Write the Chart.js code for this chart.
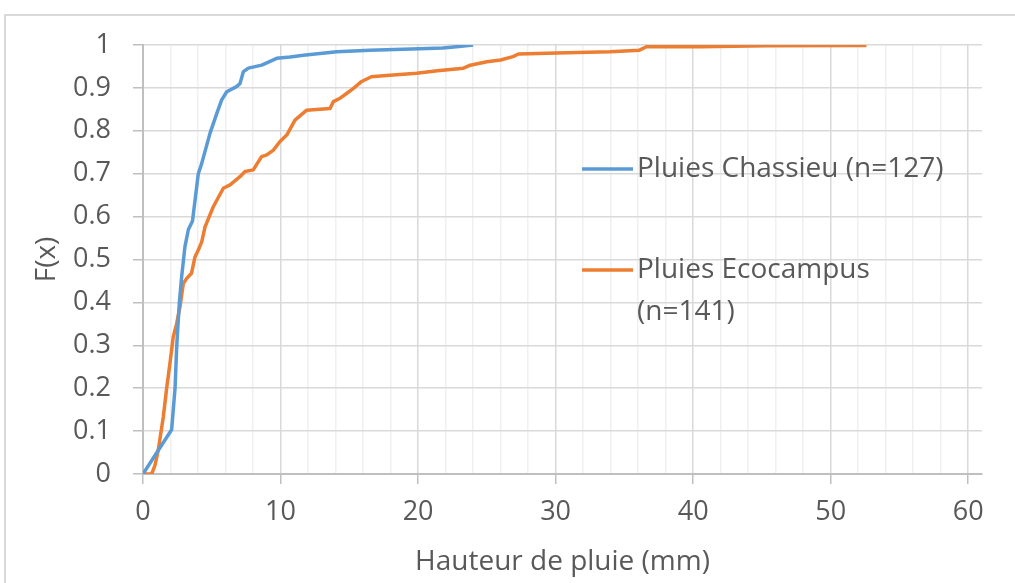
<!DOCTYPE html>
<html>
<head>
<meta charset="utf-8">
<script src="https://cdn.jsdelivr.net/npm/chart.js@4/dist/chart.umd.min.js"></script>
<style>
  html, body { margin: 0; padding: 0; background: #fff; overflow: hidden; }
  #wrap { position: relative; width: 1015px; height: 583px; }
  #frame { position: absolute; left: 4px; top: 14px; width: 1100px; height: 700px; border: 2px solid #d9d9d9; }
  canvas { position: absolute; left: 0; top: 0; }
</style>
</head>
<body>
<div id="wrap">
  <div id="frame"></div>
  <canvas id="cdfChart" width="1015" height="583"></canvas>
</div>
<script>
// Pluies Chassieu (n=127)
const chassieuX = [0, 2.08, 2.33, 2.45, 2.64, 2.81, 3.05, 3.3, 3.6, 4.02, 4.27, 4.87, 5.36, 5.72, 6.09, 6.8, 7.05, 7.3, 7.66, 8.63, 9.24, 9.72, 10.7, 11.66, 14.09, 16.5, 20.1, 21.8, 22.8, 24.0];
const chassieuY = [0, 0.103, 0.2, 0.297, 0.398, 0.46, 0.53, 0.57, 0.59, 0.70, 0.724, 0.794, 0.84, 0.872, 0.891, 0.903, 0.91, 0.938, 0.946, 0.953, 0.962, 0.969, 0.972, 0.976, 0.984, 0.988, 0.991, 0.993, 0.996, 1.0];

// Pluies Ecocampus (n=141)
const ecocampusX = [0, 0.63, 0.87, 1.11, 1.48, 1.72, 1.96, 2.2, 2.45, 2.69, 2.93, 3.18, 3.53, 3.78, 4.02, 4.27, 4.51, 5.11, 5.84, 6.33, 7.05, 7.42, 8.02, 8.39, 8.63, 9.0, 9.48, 9.96, 10.45, 11.05, 11.9, 13.6, 13.84, 14.33, 14.8, 15.3, 15.9, 16.6, 17.7, 19.9, 21.4, 23.3, 23.8, 25.0, 26.0, 26.9, 27.3, 30.8, 33.96, 36.1, 36.6, 40.5, 45.4, 52.6];
const ecocampusY = [0, 0, 0.02, 0.056, 0.134, 0.2, 0.258, 0.32, 0.351, 0.39, 0.444, 0.456, 0.468, 0.506, 0.522, 0.541, 0.576, 0.623, 0.666, 0.674, 0.693, 0.705, 0.709, 0.728, 0.74, 0.744, 0.755, 0.775, 0.79, 0.825, 0.848, 0.852, 0.868, 0.876, 0.887, 0.899, 0.915, 0.926, 0.929, 0.934, 0.94, 0.946, 0.953, 0.961, 0.965, 0.973, 0.979, 0.982, 0.984, 0.988, 0.996, 0.996, 0.998, 0.999];

const seriesNames = ['Pluies Chassieu (n=127)', ['Pluies Ecocampus', '(n=141)']];
const seriesColors = ['#5b9bd5', '#ed7d31'];

const textColor = '#595959';
const fontFamily = '"Open Sans", sans-serif';

const toPoints = (xs, ys) => xs.map((x, i) => ({ x: x, y: ys[i] }));

// legend drawn inside the plot, like the Excel original
const insideLegend = {
    id: 'insideLegend',
    afterDraw(chart) {
        const ctx = chart.ctx;
        const rows = [
            { y: 169, lines: [seriesNames[0]], color: seriesColors[0] },
            { y: 270, lines: seriesNames[1], color: seriesColors[1] }
        ];
        ctx.save();
        ctx.font = '28px ' + fontFamily;
        ctx.textBaseline = 'middle';
        ctx.fillStyle = textColor;
        rows.forEach(r => {
            ctx.strokeStyle = r.color;
            ctx.lineWidth = 3.5;
            ctx.beginPath();
            ctx.moveTo(582, r.y);
            ctx.lineTo(633, r.y);
            ctx.stroke();
            r.lines.forEach((t, i) => ctx.fillText(t, 637, r.y + i * 42));
        });
        ctx.restore();
    }
};

const ctx = document.getElementById('cdfChart').getContext('2d');
new Chart(ctx, {
    type: 'line',
    data: {
        datasets: [{
            label: 'Pluies Chassieu (n=127)',
            data: toPoints(chassieuX, chassieuY),
            borderColor: seriesColors[0],
            borderWidth: 3.5,
            borderJoinStyle: 'round',
            pointRadius: 0,
            tension: 0
        }, {
            label: 'Pluies Ecocampus (n=141)',
            data: toPoints(ecocampusX, ecocampusY),
            borderColor: seriesColors[1],
            borderWidth: 3.5,
            borderJoinStyle: 'round',
            pointRadius: 0,
            tension: 0
        }]
    },
    options: {
        responsive: false,
        animation: false,
        layout: { padding: { top: 45, right: 33, left: 0, bottom: 0 } },
        plugins: {
            legend: { display: false },
            tooltip: { enabled: false }
        },
        scales: {
            x: {
                type: 'linear',
                min: 0,
                max: 61,
                afterFit: s => { s.height = 109; },
                ticks: {
                    stepSize: 2,
                    includeBounds: false,
                    autoSkip: false,
                    maxRotation: 0,
                    padding: 12,
                    color: textColor,
                    font: { family: fontFamily, size: 27 },
                    callback: v => (v % 10 === 0 ? String(v) : '')
                },
                grid: {
                    color: c => (c.tick && c.tick.value % 10 === 0 ? '#d9d9d9' : '#f0f0f0'),
                    tickColor: c => (c.tick && c.tick.value % 10 === 0 ? '#bfbfbf' : 'rgba(0,0,0,0)'),
                    tickLength: 10,
                    lineWidth: 1.5
                },
                border: { color: '#bfbfbf', width: 2 },
                title: {
                    display: true,
                    text: 'Hauteur de pluie (mm)',
                    color: textColor,
                    font: { family: fontFamily, size: 28 },
                    padding: { top: 0, bottom: 4 }
                }
            },
            y: {
                min: 0,
                max: 1,
                afterFit: s => { s.width = 143; },
                ticks: {
                    stepSize: 0.1,
                    padding: 22,
                    color: textColor,
                    font: { family: fontFamily, size: 27 },
                    callback: v => String(+v.toFixed(1))
                },
                grid: {
                    color: '#d9d9d9',
                    tickColor: '#bfbfbf',
                    tickLength: 10,
                    lineWidth: 1.5
                },
                border: { color: '#bfbfbf', width: 2 },
                title: {
                    display: true,
                    text: 'F(x)',
                    color: textColor,
                    font: { family: fontFamily, size: 28 },
                    padding: { top: 30, bottom: 0 }
                }
            }
        }
    },
    plugins: [insideLegend]
});
</script>
</body>
</html>
